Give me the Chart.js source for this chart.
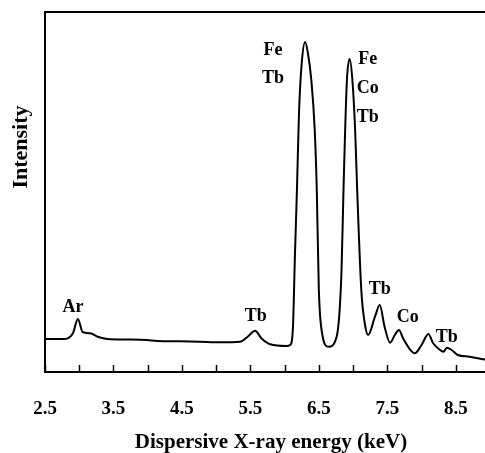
<!DOCTYPE html>
<html lang="en">
<head>
    <meta charset="UTF-8">
    <title>EDX spectrum</title>
    <script src="https://cdn.jsdelivr.net/npm/chart.js"></script>
    <style>
        * {
            margin: 0;
            padding: 0;
            box-sizing: border-box;
        }

        body {
            background: #ffffff;
        }

        /* plot runs past the right edge of the window, like the original figure */
        .wrap {
            width: 485px;
            height: 453px;
            overflow: hidden;
        }
    </style>
</head>
<body>

    <div class="wrap">
        <canvas id="edxChart" width="492" height="453"></canvas>
    </div>

    <script>
        // spectrum: energy in keV, intensity in arbitrary units
        const energy = [
            2.50, 2.79, 2.91, 2.98, 3.05, 3.16, 3.27, 3.41, 3.70, 3.99,
            4.14, 4.47, 4.76, 5.06, 5.35, 5.46, 5.57, 5.66, 5.79, 6.03,
            6.08, 6.12, 6.15, 6.18, 6.21, 6.25, 6.30, 6.34, 6.39, 6.44,
            6.47, 6.50, 6.54, 6.64, 6.76, 6.83, 6.86, 6.88, 6.91, 6.95,
            6.99, 7.03, 7.06, 7.12, 7.17, 7.22, 7.32, 7.39, 7.46, 7.54,
            7.61, 7.67, 7.73, 7.83, 7.90, 8.00, 8.10, 8.17, 8.27, 8.32,
            8.37, 8.44, 8.53, 8.70, 8.90, 9.00
        ];
        const intensity = [
            33, 33, 39, 53, 40, 38.7, 35.3, 33, 32.5, 32,
            31, 30.7, 30.3, 29.7, 30.3, 35.3, 41.3, 33.7, 27.7, 26,
            27, 42, 115, 182, 259, 309, 330, 319, 292, 242,
            182, 82, 42, 25.3, 35.3, 99, 182, 232, 292, 313,
            292, 242, 182, 82, 49, 37, 55.3, 67, 45.3, 29.3,
            37, 42, 33.7, 22.7, 18.7, 27, 38, 28.7, 22, 20.3,
            24.3, 22, 17, 15.3, 12.7, 12
        ];

        const tickLabels = ['2.5', '3.5', '4.5', '5.5', '6.5', '7.5', '8.5'];

        // element labels next to the peaks (text, energy, intensity)
        const peakNames = ['Ar', 'Tb', 'Fe', 'Tb', 'Fe', 'Co', 'Tb', 'Tb', 'Co', 'Tb'];
        const peakNameX = [2.91, 5.58, 5.83, 5.83, 7.215, 7.215, 7.215, 7.39, 7.80, 8.37];
        const peakNameY = [65, 56, 322, 294, 313, 284, 255, 83, 55, 35];

        const serif = '"Liberation Serif", "Times New Roman", serif';

        const decorations = {
            id: 'decorations',
            afterDraw(chart) {
                const { ctx, chartArea, scales } = chart;
                const x = scales.x, y = scales.y;
                ctx.save();
                ctx.strokeStyle = '#000';
                ctx.fillStyle = '#000';

                // top frame line
                ctx.lineWidth = 2;
                ctx.beginPath();
                ctx.moveTo(chartArea.left, chartArea.top);
                ctx.lineTo(chartArea.right, chartArea.top);
                ctx.stroke();

                // inward tick marks every 0.5 keV
                ctx.lineWidth = 1.5;
                x.ticks.forEach(t => {
                    const px = Math.round(x.getPixelForValue(t.value)) + 0.5;
                    ctx.beginPath();
                    ctx.moveTo(px, chartArea.bottom);
                    ctx.lineTo(px, chartArea.bottom - 7);
                    ctx.stroke();
                });

                // peak labels
                ctx.font = 'bold 18px ' + serif;
                ctx.textAlign = 'center';
                ctx.textBaseline = 'middle';
                peakNames.forEach((name, i) => {
                    ctx.fillText(name, x.getPixelForValue(peakNameX[i]), y.getPixelForValue(peakNameY[i]));
                });

                // axis titles
                ctx.font = 'bold 21px ' + serif;
                ctx.fillText('Dispersive X-ray energy (keV)', 271, 443);
                ctx.font = 'bold 22px ' + serif;
                ctx.translate(21, 147);
                ctx.rotate(-Math.PI / 2);
                ctx.fillText('Intensity', 0, 0);
                ctx.restore();
            }
        };

        const ctx = document.getElementById('edxChart').getContext('2d');
        new Chart(ctx, {
            type: 'scatter',
            data: {
                datasets: [{
                    data: energy.map((e, i) => ({ x: e, y: intensity[i] })),
                    showLine: true,
                    borderColor: '#000',
                    borderWidth: 2,
                    pointRadius: 0,
                    cubicInterpolationMode: 'monotone'
                }]
            },
            options: {
                responsive: false,
                animation: false,
                layout: { padding: { top: 12, right: 2, left: 0, bottom: 0 } },
                plugins: {
                    legend: { display: false },
                    tooltip: { enabled: false }
                },
                scales: {
                    x: {
                        type: 'linear',
                        min: 2.5,
                        max: 9.0,
                        afterFit: s => {
                            s.height = 81;
                            s.paddingLeft = 0;
                            s.paddingRight = 0;
                        },
                        border: { display: true, color: '#000', width: 2 },
                        grid: { display: false },
                        ticks: {
                            stepSize: 0.5,
                            color: '#000',
                            padding: 18,
                            maxRotation: 0,
                            autoSkip: false,
                            font: { family: serif, size: 19, weight: 'bold' },
                            callback: v => {
                                const k = Math.round((v - 2.5) * 2);
                                return k % 2 === 0 ? tickLabels[k / 2] : '';
                            }
                        }
                    },
                    y: {
                        min: 0,
                        max: 360,
                        afterFit: s => { s.width = 45; },
                        border: { display: true, color: '#000', width: 2 },
                        grid: { display: false },
                        ticks: { display: false }
                    }
                }
            },
            plugins: [decorations]
        });
    </script>

</body>
</html>
